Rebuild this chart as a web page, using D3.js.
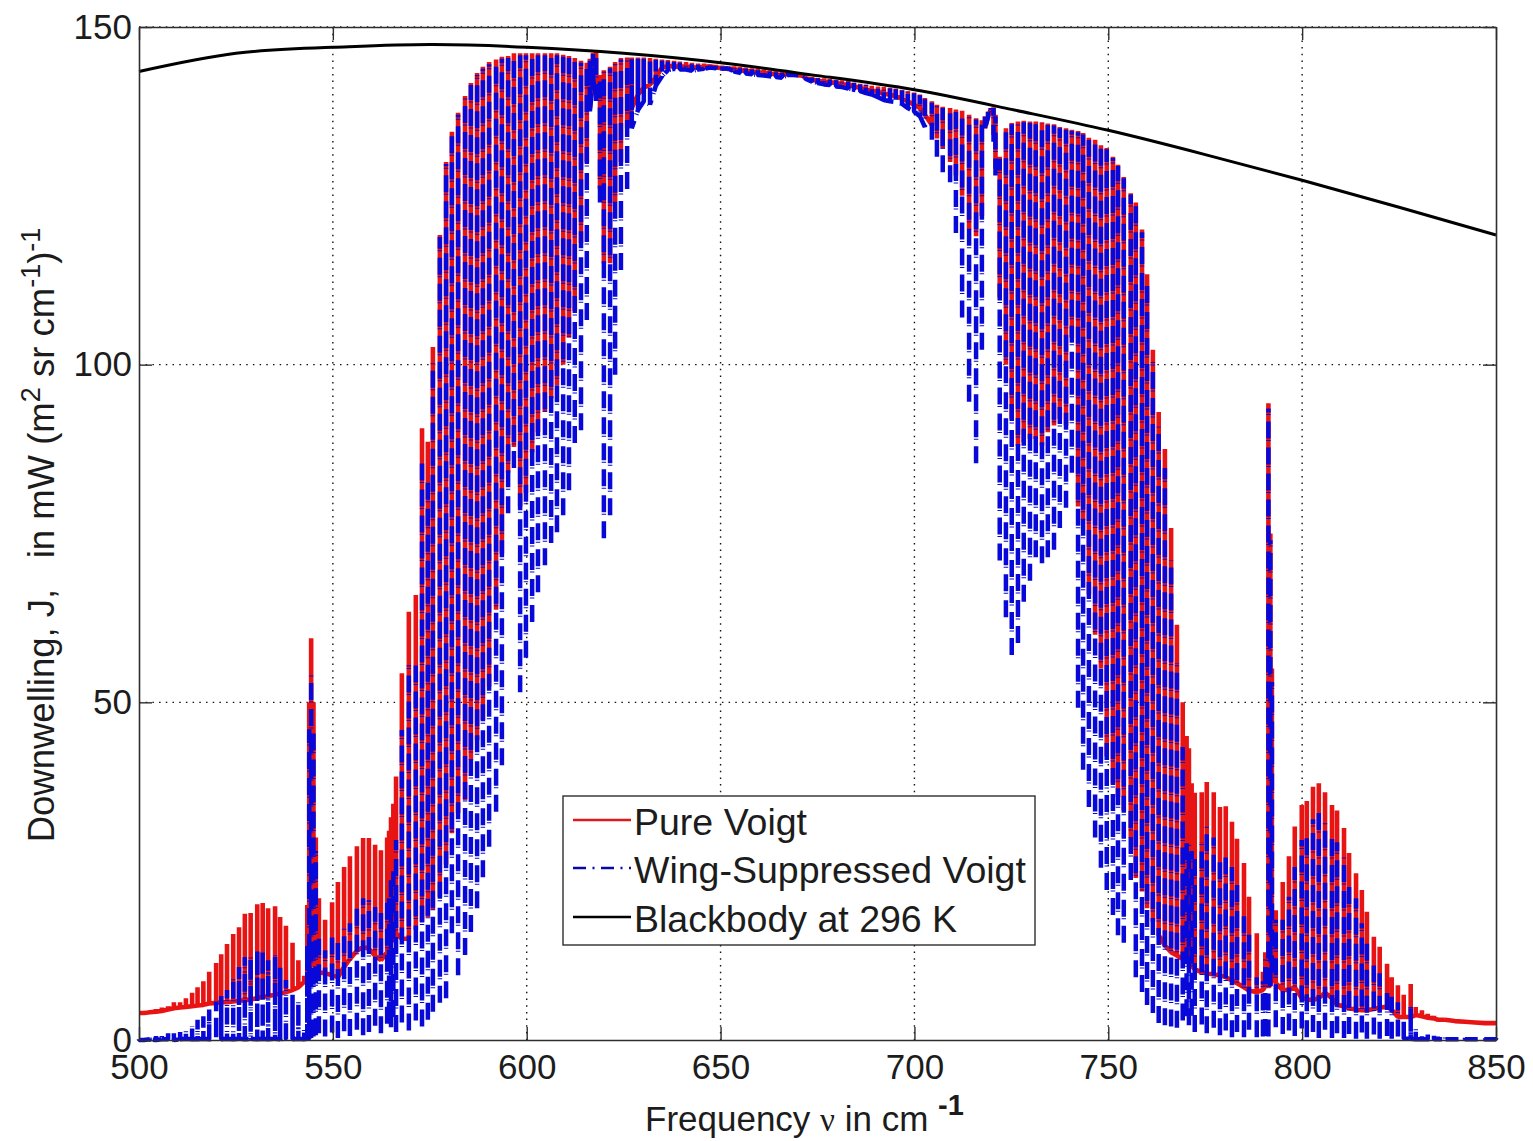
<!DOCTYPE html>
<html><head><meta charset="utf-8">
<script src="https://cdn.jsdelivr.net/npm/d3@7"></script>
<style>
html,body{margin:0;padding:0;background:#fff}
svg{display:block}
text{font-family:"Liberation Sans",Arial,sans-serif;fill:#1c1c1c}
</style></head><body>
<svg id="c" width="1533" height="1141"></svg>
<script>
// Spectral line centres (cm-1), one entry per stem
const lineFreq = [
500.0,501.3,502.8,504.4,505.9,507.5,509.0,510.6,512.1,513.7,
515.1,516.6,518.1,519.9,521.2,522.7,524.3,525.8,527.3,528.8,
530.5,531.9,533.3,535.1,536.4,537.9,539.6,541.1,542.6,543.4,
543.9,544.4,545.0,545.6,546.4,548.0,549.8,551.3,552.9,554.4,556.2,557.8,
559.3,560.9,562.4,564.0,564.5,565.0,565.6,566.3,567.8,569.6,571.4,573.0,
574.5,575.8,577.6,579.2,580.7,582.3,584.1,585.6,587.2,588.7,
590.3,592.1,593.6,595.2,596.7,598.3,599.8,601.4,602.9,604.7,
606.3,607.8,609.4,610.9,612.4,614.0,615.5,616.3,617.1,617.9,
618.9,619.9,621.5,622.8,624.3,625.9,627.1,628.7,630.2,631.8,
633.3,634.9,636.4,638.0,639.5,641.1,642.6,644.2,645.7,647.3,
648.8,650.4,651.9,653.5,655.0,656.5,658.1,659.6,661.2,662.7,
664.3,665.8,667.4,669.2,671.2,672.0,673.6,675.1,676.7,678.2,
679.8,681.3,682.9,684.4,686.0,687.5,689.0,690.6,692.1,693.7,
695.2,696.8,698.3,699.9,701.4,702.7,704.5,705.8,707.3,709.2,
710.7,712.3,714.1,715.9,717.4,718.2,719.0,719.7,720.4,720.9,
722.0,723.6,725.1,726.7,728.2,729.8,731.3,732.9,734.4,736.0,
737.5,739.1,740.6,742.2,743.5,745.0,746.6,748.1,749.6,751.2,
752.5,754.0,755.8,757.1,758.7,760.0,761.5,763.0,764.6,766.2,
767.7,769.2,770.2,770.8,771.5,772.3,774.1,775.4,777.2,778.8,780.3,781.9,
783.2,785.0,786.3,788.3,789.9,790.5,791.3,791.8,792.2,793.2,795.0,
796.6,798.1,799.9,801.2,802.8,804.3,805.9,807.7,809.0,810.8,
812.1,813.9,815.4,816.7,818.5,820.0,821.9,823.1,824.7,826.2,
828.0,829.3,830.9,832.4,834.0,835.0,836.8,839.4,842.0,844.6,
847.2,850.0];
// Pure Voigt: value at each line centre
const redPeak = [
4.0,4.2,4.4,4.6,4.8,5.0,5.6,5.6,6.2,7.0,
7.8,8.7,10.1,11.4,12.7,14.2,15.7,16.7,18.7,18.8,
20.1,20.3,19.5,19.8,18.2,16.9,14.4,11.8,9.5,20,
50,59.5,50,30,21,17.8,20.4,23.4,25.6,27.2,28.7,29.9,
29.9,28.9,28.1,30,31,33,35,39,54.3,63.4,65.9,90.6,
88.6,102.6,119.2,130,134.5,137.3,139.8,141.7,143.2,144.1,
144.8,145.2,145.6,145.7,146.1,146.1,146.1,146.1,146.1,146.1,
146.1,146.1,145.9,145.7,145.4,145,144.7,145.3,146.2,146.6,
142.9,143.6,144.1,144.8,145.4,145.5,145.5,145.5,145.5,145.4,
145.3,145.2,145.1,145,144.9,144.8,144.7,144.6,144.6,144.5,
144.4,144.3,144.2,144.2,144.1,144,143.9,143.8,143.7,143.6,
143.5,143.4,143.3,143,142.9,142.7,142.6,142.5,142.4,142.3,
142.2,142.1,142,141.8,141.6,141.5,141.3,141.2,141.1,141,
140.9,140.7,140.5,140.3,140,139.5,139,138.5,138.2,138,
137.8,137.6,137,136.5,136.2,136.8,137.5,138,138.1,137,
130.8,135,135.8,136,136.1,136,136,135.9,135.7,135.6,
135.2,135,134.8,134.6,134.3,133.6,133.3,132.5,132.1,130.8,
129.6,127.8,125.4,124,120,113.4,102.2,93,87.5,75.8,
61.5,50,45,43.2,38,36.6,36.7,38.2,36.7,34.5,34.6,32.3,
29.8,26.2,21.2,15.8,10.1,13,94.3,75,55,19.2,23.4,
27.2,31.6,34.8,35.4,37.5,38,36.7,34.8,34,31.4,
27.7,24.7,22.2,19,15.3,13.8,11.3,9.3,8.1,6.7,
8.3,4.9,4.4,3.9,3.6,3.3,3.1,2.9,2.8,2.7,
2.6,2.5];
// Pure Voigt: trough beside each line centre
const redTrough = [
4.0,4.0,4.1,4.2,4.3,4.5,4.7,4.8,4.9,5.0,
5.1,5.2,5.4,5.5,5.6,5.6,5.7,5.8,5.9,6.0,
6.2,6.4,6.5,6.7,6.9,7.1,7.4,7.8,8.6,9.5,
10,12,11,11,10,9.9,9.6,9.3,10.8,12,13.2,13.8,
13.5,12.5,11.8,13,13.5,14.5,15,15.8,15,15,16.3,17.5,
18.2,19.3,21.2,26,30.6,33.6,35.5,41.5,44.4,47.4,
52.3,63.7,72,84,87.8,79,81,87,90,93,
95,97,100,104,108,118,130,138,143,140,
126,115,115,124,130,135,138,140,141,141.5,
142.5,144,144.2,144.2,144.1,144.2,144,144,144.1,144.2,
144,143.9,143.8,143.8,143.6,143.5,143.4,143.3,143.2,143.1,
143,142.9,143,142.9,142.8,142.4,142.2,142,141.9,141.8,
141.7,141.5,141.4,141.2,141,140.7,140.6,140.4,140.1,140,
139.7,139.4,139,138.5,138,137,135.5,133.5,132,130,
128,125,120,119,122,135,136.8,137.8,134,129,
110,100,92,88,88.5,89,89,88,90,91,
92,91,104,79,77,66,60,55,42,38,
36,34,30,24,22,19.5,17.5,15.5,14,13,
12.5,12,11.7,11.5,11,10.5,10,9.9,9.7,9.6,9.3,8.8,
8.4,7.8,7.3,7.1,7.4,8,8,8,10,8.4,7.4,
7.4,7.8,6.2,6,5.9,6.2,7,6.2,5.2,5,
4.7,4.5,4.4,4.4,4.6,4.8,4.9,4.5,3.4,3.4,
3.4,3.7,3.5,3.3,3.2,3,3,2.8,2.7,2.6,
2.5,2.5];
// Wing-Suppressed Voigt: value at each line centre
const bluePeak = [
0.1,0.3,0.6,0.6,0.8,1,1,1.2,1.5,2,
3,3.5,4.5,5.7,6.5,7.4,9.3,10.8,12.3,12.3,
13.3,13.3,11.8,12.6,10.7,8.9,6.7,5.6,1.5,14,
46,54,46,28,15,13.3,15.8,14.8,16.7,17.3,19.7,21,
20.7,19.7,18.8,20.7,21,23.7,25,29.6,45.9,55.5,56.3,85.4,
83.4,100.3,118.9,129.7,134.2,137,139.5,141.4,142.9,143.8,
144.5,144.9,145.3,145.4,145.8,145.8,145.8,145.8,145.8,145.8,
145.8,145.8,145.6,145.4,145.1,144.7,144.4,145.1,146,146.4,
142.7,143.4,143.9,144.6,145.2,145.3,145.3,145.3,145.3,145.2,
145.1,145,144.9,144.8,144.7,144.6,144.5,144.4,144.4,144.3,
144.2,144.1,144.1,144,143.9,143.8,143.7,143.6,143.5,143.4,
143.3,143.2,143.2,143,142.9,142.6,142.5,142.4,142.3,142.2,
142.1,142,141.9,141.7,141.5,141.4,141.2,141.1,141,140.9,
140.8,140.6,140.4,140.2,139.9,139.3,138.8,138.3,138,137.8,
137.6,137.4,136.8,136.3,136,136.7,137.4,138,138,136.8,
130.5,134.8,135.6,135.8,135.9,135.8,135.8,135.7,135.5,135.4,
135,134.8,134.6,134.4,134.1,133.4,133.1,132.3,131.9,130.6,
129.4,127.6,125.2,123.8,119.6,112,100.4,90.8,84.7,71,
55.8,43.4,30,29,28,27.4,29.3,31.8,30,27,27.8,25.6,
23.4,19.3,16.3,9.3,8.7,12,93.5,74,53,17.8,17.8,
21.2,25.6,29.6,30.4,32.7,33.8,32.1,30.4,29.3,27.1,
23.4,21,17.3,14.8,11.8,9.9,7.8,6.4,5.6,3,
4.9,1.9,1,0.8,0.7,0.5,0.5,0.4,0.4,0.3,
0.3,0.3];
// Wing-Suppressed Voigt: trough beside each line centre
const blueTrough = [
0,0,0.1,0,0.1,0.1,0,0.1,0.2,0.1,
0.1,0.2,0.1,0.2,0.1,0.2,0.1,0.2,0.1,0.2,
0.1,0.2,0.1,0.2,0.1,0.2,0.1,0.2,0.1,0.2,
0.2,0.3,0.5,0.7,1,0.5,1.1,0.3,1.3,0.6,1.5,0.7,
1.2,2.1,1.0,2.4,3.2,1.9,3.4,1.2,2.6,1.4,2.9,2.0,
3,4.2,5.5,6.2,15.8,9.6,12.6,16,19.5,24.1,
28.6,33.8,40.7,78,84.7,51.5,56.6,61.9,66.3,70.3,
73.6,75.2,77.7,81.4,88.4,90.3,106.6,137.5,142.5,139,
124,74.3,77.7,98.5,114,126,135,137.7,139,138.5,
141.3,142.7,143.6,143.8,143.7,143.7,143.5,143.7,143.8,144,
143.9,143.8,143.9,143.4,143.2,143.1,143,142.9,142.8,142.7,
142.6,142.5,142.9,142.9,142.8,142.3,141.9,141.7,141.5,141.4,
141.2,141.1,140.9,140.7,140.5,140.2,140,139.6,139.2,139,
138.9,138.6,138,137.5,136.8,135.2,133.3,130.8,128.5,127,
119.5,107,94.5,85.4,102.2,135,136.7,137.7,133,128,
71,62.6,57,58.8,64.9,68,71.5,70.6,71.5,72.6,
75.8,78.8,84,49.2,40,34.5,30,25.5,22.2,18.5,
15.5,14.4,23.7,9.3,7.1,5.2,4,2.5,2.2,2,
1.8,2.9,3.5,2.2,3.6,1.2,2.3,1,1.8,0.7,1.4,0.4,
1.2,0.4,1.5,0.4,0.5,0.6,0.5,8,10,1.9,0.9,
1.4,0.6,1.7,0.4,1.2,0.3,1.5,0.3,1.0,0.3,
0.9,0.2,1.1,0.2,0.8,0.2,0.6,0.2,0.5,0.2,
0.2,0.1,0.1,0.1,0.1,0.1,0.1,0.1,0.1,0.1,
0.1,0.1];
// Blackbody at 296 K
const bbFreq  = [500,525,550,575,600,625,650,675,700,725,750,775,800,825,850];
const bbValue = [143.4,146.1,147,147.4,147,146.1,144.7,142.8,140.7,137.8,134.7,131.1,127.3,123.3,119.2];
// Axis ticks and legend
const xTicks = [500,550,600,650,700,750,800,850];
const yTicks = [0,50,100,150];
const legendLabels = ["Pure Voigt","Wing-Suppressed Voigt","Blackbody at 296 K"];

[redPeak,redTrough,bluePeak,blueTrough].forEach((a,i)=>{
  if(a.length!==lineFreq.length) console.error("length mismatch",i,a.length,lineFreq.length);
});

const L=139,R=1496,T=27,B=1040;
const x=d3.scaleLinear().domain([500,850]).range([L,R]);
const y=d3.scaleLinear().domain([0,150]).range([B,T]);
const svg=d3.select("#c");
const axCol="#2e2e2e";

// grid
const grid=svg.append("g").attr("stroke","#111").attr("stroke-width",1.4).attr("stroke-dasharray","1.5 5.2");
grid.selectAll("line.v").data(xTicks.slice(1,-1)).join("line").attr("x1",d=>x(d)).attr("x2",d=>x(d)).attr("y1",T).attr("y2",B);
grid.selectAll("line.h").data(yTicks.slice(1)).join("line").attr("x1",L).attr("x2",R).attr("y1",d=>y(d)).attr("y2",d=>y(d));

// spectra: every stem rises trough -> peak; neighbours join only where the trough is a visible band
const line=d3.line().defined(d=>d!==null).x(d=>x(d[0])).y(d=>y(d[1]));
function stems(pk,tr,joined){
  const pts=[];
  lineFreq.forEach((f,i)=>{
    pts.push([f,tr[i]],[f,pk[i]]);
    if(i<lineFreq.length-1){
      if(joined(tr[i],tr[i+1])) pts.push([f,tr[i]]);
      else pts.push(null);
    }
  });
  return pts;
}
const redJoin=(a,b)=>(a<=16&&b<=16)||(a>=135&&b>=135);
const blueJoin=(a,b)=>(a<=0.25&&b<=0.25)||(a>=135&&b>=135);
svg.append("path").attr("d",line(stems(redPeak,redTrough,redJoin))).attr("fill","none")
  .attr("stroke","#e81414").attr("stroke-width",4.6).attr("stroke-linejoin","bevel");
svg.append("path").attr("d",line(stems(bluePeak,blueTrough,blueJoin))).attr("fill","none")
  .attr("stroke","#0808d8").attr("stroke-width",4.5).attr("stroke-linejoin","bevel")
  .attr("stroke-dasharray","17 6.5 1 1.5");
svg.append("path").attr("d",d3.line().x((d,i)=>x(bbFreq[i])).y(d=>y(d)).curve(d3.curveNatural)(bbValue))
  .attr("fill","none").attr("stroke","#000").attr("stroke-width",3);

// axes
function styleAxis(g){
  g.selectAll("path").attr("stroke",axCol).attr("stroke-width",1.6);
  g.selectAll("line").attr("stroke",axCol).attr("stroke-width",1.4);
  g.selectAll("text").style("font-size","35px").style("font-family",'"Liberation Sans",Arial,sans-serif').attr("fill","#1c1c1c");
}
svg.append("g").attr("transform",`translate(0,${B})`)
  .call(d3.axisBottom(x).tickValues(xTicks).tickSize(-13).tickSizeOuter(0).tickPadding(14)).call(styleAxis);
svg.append("g").attr("transform",`translate(${L},0)`)
  .call(d3.axisLeft(y).tickValues(yTicks).tickSize(-13).tickSizeOuter(0).tickPadding(7)).call(styleAxis);
svg.append("g").attr("transform",`translate(0,${T})`)
  .call(d3.axisTop(x).tickValues(xTicks).tickSize(-13).tickSizeOuter(0).tickFormat("")).call(styleAxis);
svg.append("g").attr("transform",`translate(${R},0)`)
  .call(d3.axisRight(y).tickValues(yTicks).tickSize(-13).tickSizeOuter(0).tickFormat("")).call(styleAxis);

// axis titles
const xl=svg.append("text").attr("x",645).attr("y",1131).style("font-size","35px");
xl.append("tspan").text("Frequency ");
xl.append("tspan").style("font-family",'"Liberation Serif",serif').style("font-size","33px").text("ν");
xl.append("tspan").text(" in cm ");
xl.append("tspan").attr("dy",-16).style("font-weight","bold").style("font-size","29px").text("-1");

const yl=svg.append("text").attr("transform","translate(54,535) rotate(-90)").attr("text-anchor","middle")
  .attr("xml:space","preserve").style("font-size","36.5px");
yl.append("tspan").text("Downwelling, J,   in mW (m");
yl.append("tspan").attr("dy",-14).style("font-size","27px").text("2");
yl.append("tspan").attr("dy",14).text(" sr cm");
yl.append("tspan").attr("dy",-14).style("font-size","27px").text("-1");
yl.append("tspan").attr("dy",14).text(")");
yl.append("tspan").attr("dy",-14).style("font-size","27px").text("-1");

// legend
const lg=svg.append("g");
lg.append("rect").attr("x",563).attr("y",796).attr("width",472).attr("height",149).attr("fill","#fff").attr("stroke",axCol).attr("stroke-width",1.4);
const legY=[820,868,917], legB=[835,883,932];
const legS=[{c:"#e01818",d:null,w:2.4},{c:"#0808a8",d:"13 6.5 2 6.5",w:2.4},{c:"#000",d:null,w:2.4}];
legendLabels.forEach((t,i)=>{
  const l=lg.append("line").attr("x1",573).attr("x2",631).attr("y1",legY[i]).attr("y2",legY[i])
    .attr("stroke",legS[i].c).attr("stroke-width",legS[i].w);
  if(legS[i].d) l.attr("stroke-dasharray",legS[i].d);
  lg.append("text").attr("x",634).attr("y",legB[i]).style("font-size","37.5px").text(t);
});
</script>
</body></html>
